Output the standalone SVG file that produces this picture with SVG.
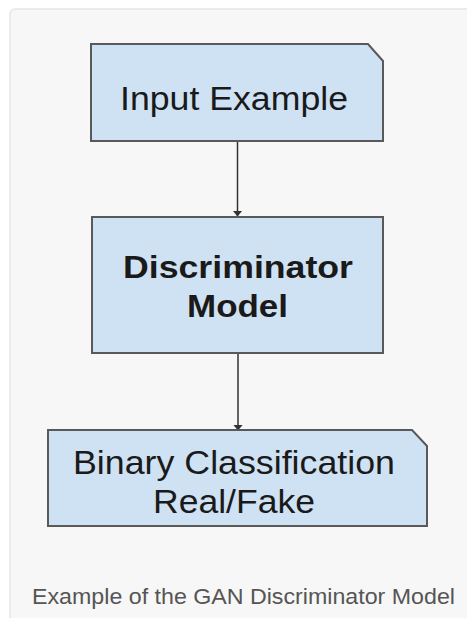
<svg xmlns="http://www.w3.org/2000/svg" width="467" height="618" viewBox="0 0 467 618">
  <defs>
    <marker id="arrow" markerWidth="6" markerHeight="10" refX="5.5" refY="5" orient="auto" markerUnits="userSpaceOnUse" viewBox="0 0 6 10">
      <path d="M0,0 L6,5 L0,10 Z" fill="#333"/>
    </marker>
    <style>
      .panel { fill: #f7f7f7; stroke: #e6e6e6; stroke-width: 1.5; }
      .box { fill: #cfe2f3; stroke: #595959; stroke-width: 2; }
      .label { font-family: "Liberation Sans", Arial, sans-serif; font-size: 33px; fill: #1a1a1a; text-anchor: middle; }
      .bold { font-weight: bold; font-size: 32px; }
      .edge { stroke: #333; stroke-width: 1.5; fill: none; marker-end: url(#arrow); }
      .caption { font-family: "Liberation Sans", Arial, sans-serif; font-size: 22.5px; fill: #555; }
    </style>
  </defs>

  <rect width="467" height="618" fill="#ffffff"/>
  <rect class="panel" x="10" y="9" width="470" height="620" rx="5"/>

  <g id="connectors">
    <line class="edge" x1="237.5" y1="141" x2="237.5" y2="216"/>
    <line class="edge" x1="238" y1="353" x2="238" y2="430"/>
  </g>

  <g id="input-example">
    <path class="box" d="M91,44 H368 L383,61 V141 H91 Z"/>
    <text class="label" x="234" y="110" textLength="228" lengthAdjust="spacingAndGlyphs">Input Example</text>
  </g>

  <g id="discriminator-model">
    <rect class="box" x="92" y="217" width="291" height="136"/>
    <text class="label bold" x="238" y="278" textLength="230" lengthAdjust="spacingAndGlyphs">Discriminator</text>
    <text class="label bold" x="237.5" y="317" textLength="101" lengthAdjust="spacingAndGlyphs">Model</text>
  </g>

  <g id="binary-classification">
    <path class="box" d="M48,430 H412 L427,446 V526 H48 Z"/>
    <text class="label" x="234" y="474" textLength="322" lengthAdjust="spacingAndGlyphs">Binary Classification</text>
    <text class="label" x="234" y="513" textLength="162" lengthAdjust="spacingAndGlyphs">Real/Fake</text>
  </g>

  <text class="caption" x="32" y="604" textLength="423" lengthAdjust="spacingAndGlyphs">Example of the GAN Discriminator Model</text>
</svg>
